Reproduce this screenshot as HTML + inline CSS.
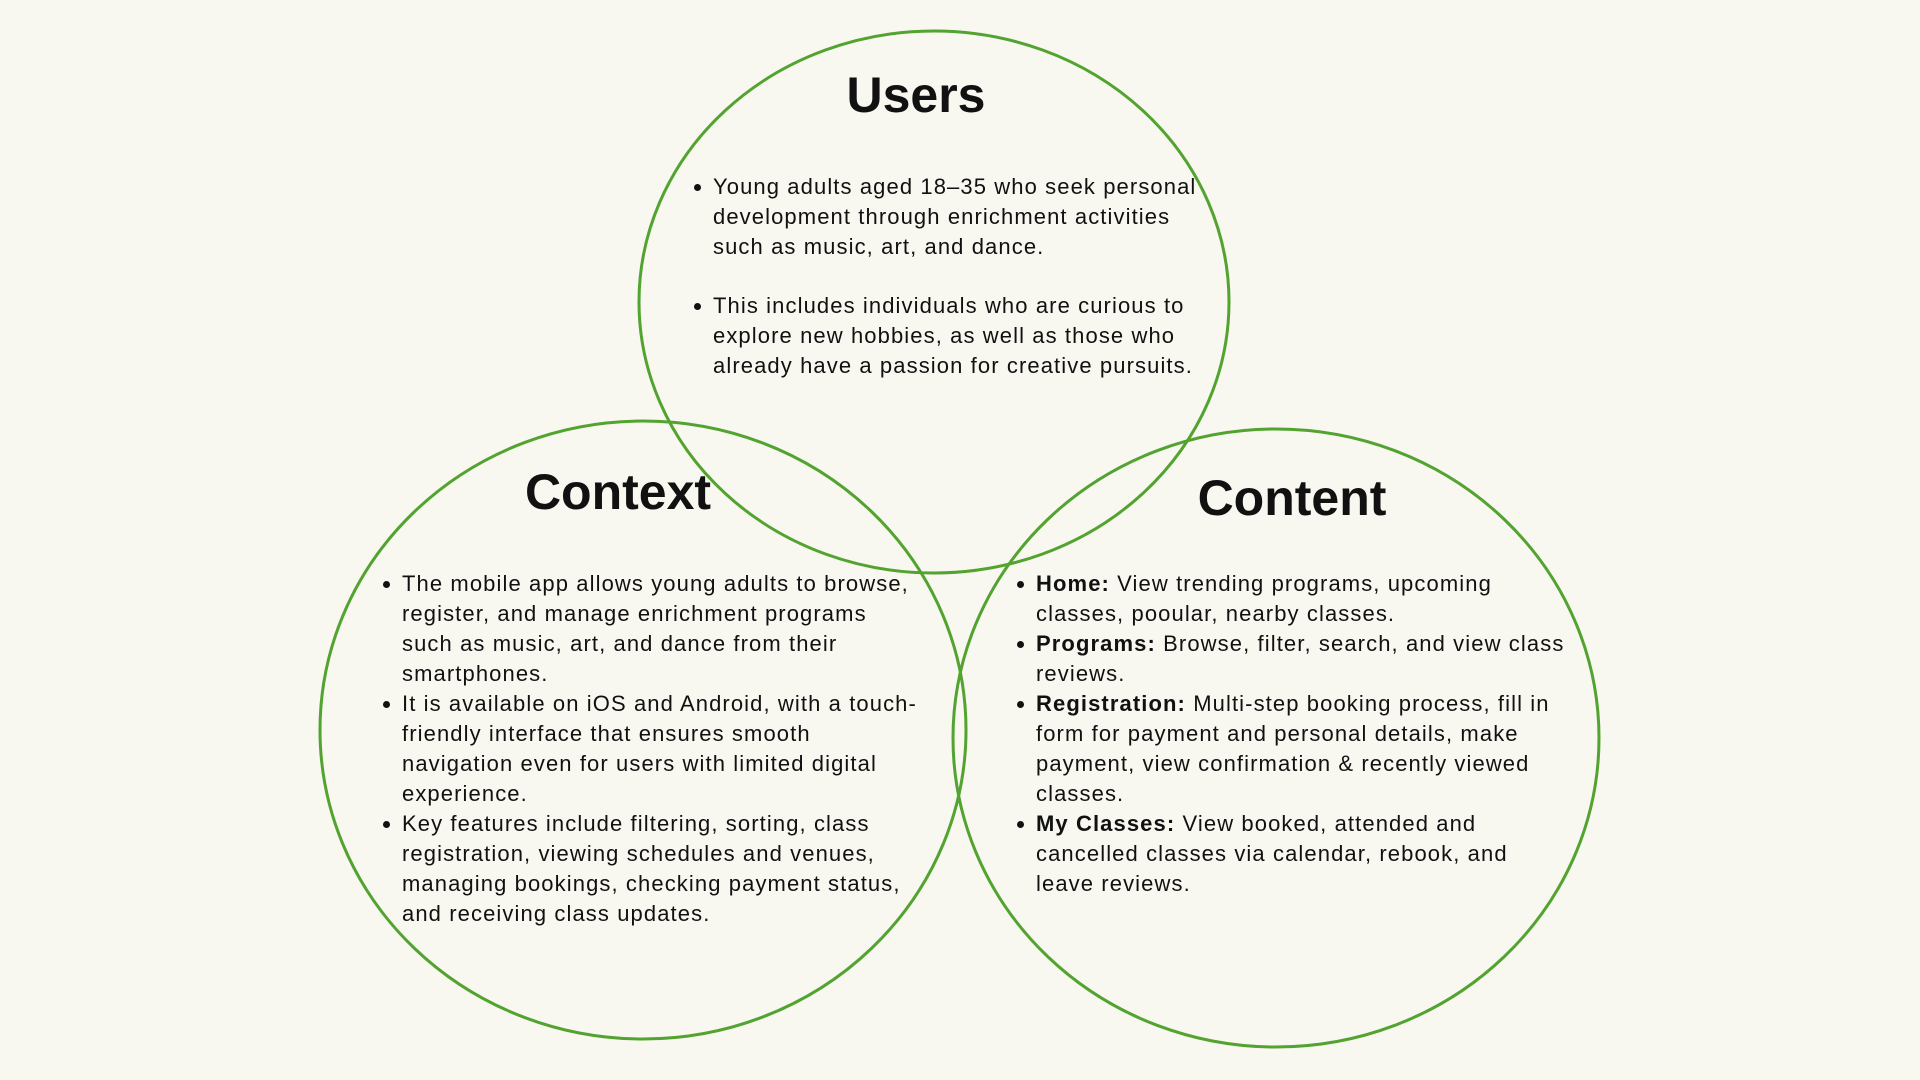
<!DOCTYPE html>
<html><head><meta charset="utf-8"><style>
html,body{margin:0;padding:0;background:#f8f7f0;}
body{width:1920px;height:1080px;position:relative;overflow:hidden;font-family:"Liberation Sans",sans-serif;color:#111;}
svg{position:absolute;left:0;top:0;}
.t{position:absolute;font-weight:bold;font-size:50px;line-height:60px;transform:translateX(-50%);white-space:nowrap;}
.b{position:absolute;font-size:22px;line-height:30px;white-space:nowrap;letter-spacing:1.1px;}
.b ul{margin:0;padding:0;list-style:none;}
.b li{position:relative;}
.b li::before{content:"";position:absolute;left:-19px;top:12px;width:7px;height:7px;border-radius:50%;background:#111;}
</style></head><body>
<svg width="1920" height="1080">
<ellipse cx="934" cy="302" rx="295" ry="271" fill="none" stroke="#52a32f" stroke-width="3"/>
<ellipse cx="643" cy="730" rx="323" ry="309" fill="none" stroke="#52a32f" stroke-width="3"/>
<ellipse cx="1276" cy="738" rx="323" ry="309" fill="none" stroke="#52a32f" stroke-width="3"/>
</svg>
<div class="t" style="left:916px;top:65px;">Users</div>
<div class="t" style="left:618px;top:462px;">Context</div>
<div class="t" style="left:1292px;top:468px;">Content</div>

<div class="b" style="left:713px;top:172px;"><ul>
<li>Young adults aged 18–35 who seek personal<br>development through enrichment activities<br>such as music, art, and dance.</li>
<li style="margin-top:29px;">This includes individuals who are curious to<br>explore new hobbies, as well as those who<br>already have a passion for creative pursuits.</li>
</ul></div>

<div class="b" style="left:402px;top:569px;"><ul>
<li>The mobile app allows young adults to browse,<br>register, and manage enrichment programs<br>such as music, art, and dance from their<br>smartphones.</li>
<li>It is available on iOS and Android, with a touch-<br>friendly interface that ensures smooth<br>navigation even for users with limited digital<br>experience.</li>
<li>Key features include filtering, sorting, class<br>registration, viewing schedules and venues,<br>managing bookings, checking payment status,<br>and receiving class updates.</li>
</ul></div>

<div class="b" style="left:1036px;top:569px;"><ul>
<li><b>Home:</b> View trending programs, upcoming<br>classes, pooular, nearby classes.</li>
<li><b>Programs:</b> Browse, filter, search, and view class<br>reviews.</li>
<li><b>Registration:</b> Multi-step booking process, fill in<br>form for payment and personal details, make<br>payment, view confirmation &amp; recently viewed<br>classes.</li>
<li><b>My Classes:</b> View booked, attended and<br>cancelled classes via calendar, rebook, and<br>leave reviews.</li>
</ul></div>
</body></html>
